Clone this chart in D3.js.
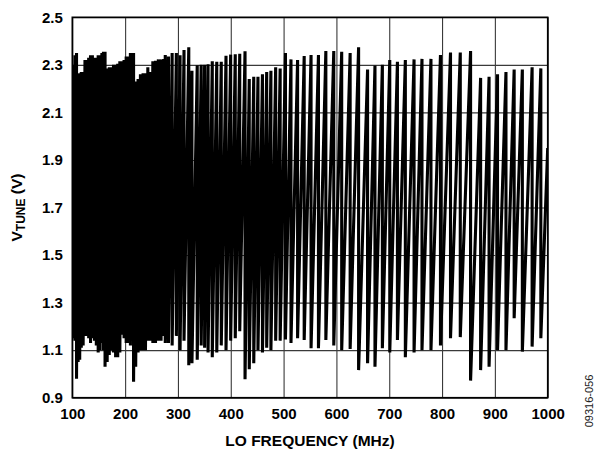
<!DOCTYPE html>
<html>
<head>
<meta charset="utf-8">
<script src="https://cdn.jsdelivr.net/npm/d3@7"></script>
<style>
  body { margin: 0; background: #fff; }
  text { font-family: "Liberation Sans", Arial, sans-serif; }
</style>
</head>
<body>
<script>
// tick labels
var xTicks = [100, 200, 300, 400, 500, 600, 700, 800, 900, 1000];
var yTicks = [0.9, 1.1, 1.3, 1.5, 1.7, 1.9, 2.1, 2.3, 2.5];

// sweep start / end (MHz, V)
var startMHz = 100, startV = 1.16;
var endMHz = 1000, endV = 1.95;

// band switch points: frequency, Vtune just before the switch, Vtune just after
var switchMHz = [
  102, 105, 108,
  111, 114, 117, 120.5, 124, 127.5, 131, 134.5, 138, 142, 145.5, 149, 152.5, 156, 159, 162,
  166, 170, 174, 178, 182, 186, 190, 194, 198, 202, 206, 210, 213, 216,
  220, 224.5, 229, 234, 238.5, 243, 247.5, 252.5, 257.5, 263, 268, 273, 276, 282, 289, 297, 304, 311.5, 320.5,
  326.5, 336.5, 344, 350.5, 357, 365, 373.5, 382, 391, 399.8, 408.5, 417, 427,
  435, 443.5, 451.5, 460, 468, 476, 485, 493.5, 503.5, 514, 526.5, 539, 552, 566, 580, 595, 610, 626, 642,
  659, 673, 687, 701, 715.5, 730.5, 747, 762, 779, 797, 816, 834.5, 854,
  873, 889, 905, 921, 936.5, 952, 970.5, 987
];
var peakV = [
  2.30, 2.34, 2.35,
  2.26, 2.265, 2.27, 2.27, 2.32, 2.32, 2.33, 2.34, 2.34, 2.33, 2.33, 2.34, 2.34, 2.35, 2.355, 2.355,
  2.285, 2.29, 2.29, 2.30, 2.30, 2.305, 2.315, 2.315, 2.32, 2.335, 2.335, 2.35, 2.35, 2.35,
  2.23, 2.24, 2.26, 2.265, 2.265, 2.29, 2.27, 2.315, 2.317, 2.323, 2.323, 2.325, 2.341, 2.335, 2.35, 2.35, 2.34, 2.362, 2.374,
  2.275, 2.298, 2.30, 2.30, 2.302, 2.315, 2.313, 2.313, 2.338, 2.343, 2.345, 2.347, 2.357,
  2.24, 2.25, 2.25, 2.26, 2.27, 2.275, 2.29, 2.285, 2.35, 2.323, 2.32, 2.337, 2.341, 2.341, 2.358, 2.358, 2.355, 2.35, 2.374,
  2.28, 2.297, 2.30, 2.32, 2.313, 2.32, 2.323, 2.325, 2.325, 2.341, 2.352, 2.352, 2.358,
  2.245, 2.25, 2.26, 2.27, 2.28, 2.28, 2.29, 2.285
];
var troughV = [
  1.15, 1.14, 0.98,
  1.05, 1.06, 1.11, 1.12, 1.16, 1.16, 1.15, 1.13, 1.15, 1.14, 1.12, 1.09, 1.10, 1.13, 1.10, 1.03,
  1.05, 1.08, 1.10, 1.09, 1.07, 1.07, 1.09, 1.165, 1.15, 1.13, 1.13, 1.12, 1.16, 0.967,
  1.03, 1.09, 1.10, 1.10, 1.10, 1.14, 1.14, 1.13, 1.13, 1.14, 1.14, 1.16, 1.13, 1.13, 1.12, 1.16, 1.10, 1.14, 1.037,
  1.045, 1.06, 1.12, 1.11, 1.09, 1.07, 1.09, 1.12, 1.10, 1.14, 1.15, 1.18, 0.978,
  1.02, 1.045, 1.10, 1.09, 1.11, 1.10, 1.14, 1.14, 1.145, 1.13, 1.15, 1.143, 1.108, 1.108, 1.143, 1.12, 1.10, 1.105, 1.016,
  1.045, 1.03, 1.108, 1.09, 1.143, 1.07, 1.09, 1.10, 1.10, 1.12, 1.15, 1.155, 0.972,
  1.016, 1.03, 1.10, 1.10, 1.234, 1.094, 1.115, 1.15
];

var svgWidth = 595;
var svgHeight = 451;
var margin = { top: 17.3, right: 47.3, bottom: 53.3, left: 72.3 };
var width = svgWidth - margin.left - margin.right;
var height = svgHeight - margin.top - margin.bottom;

var svg = d3.select("body")
  .append("svg")
  .attr("width", svgWidth)
  .attr("height", svgHeight);

var chartGroup = svg.append("g")
  .attr("transform", `translate(${margin.left}, ${margin.top})`);

var xScale = d3.scaleLinear().domain([100, 1000]).range([0, width]);
var yScale = d3.scaleLinear().domain([0.9, 2.5]).range([height, 0]);

// grid + tick labels
var xAxis = chartGroup.append("g")
  .attr("transform", `translate(0, ${height})`)
  .call(d3.axisBottom(xScale).tickValues(xTicks).tickSize(-height).tickPadding(10.5).tickFormat(d3.format("d")));
var yAxis = chartGroup.append("g")
  .call(d3.axisLeft(yScale).tickValues(yTicks).tickSize(-width).tickPadding(9.5).tickFormat(d3.format(".1f")));

[xAxis, yAxis].forEach(function(ax) {
  ax.select(".domain").remove();
  ax.selectAll(".tick line").attr("stroke", "#3a3a3a").attr("stroke-width", 1.1);
  ax.selectAll(".tick text")
    .attr("fill", "#000")
    .style("font-size", "15px")
    .style("font-weight", "bold");
});

// sawtooth trace
var pts = [[startMHz, startV]];
switchMHz.forEach(function(f, i) {
  pts.push([f, peakV[i]]);
  pts.push([f, troughV[i]]);
});
pts.push([endMHz, endV]);

chartGroup.append("clipPath").attr("id", "plotClip")
  .append("rect").attr("width", width).attr("height", height);

var line = d3.line()
  .x(d => xScale(d[0]))
  .y(d => yScale(d[1]));

chartGroup.append("path")
  .datum(pts)
  .attr("clip-path", "url(#plotClip)")
  .attr("d", line)
  .attr("fill", "none")
  .attr("stroke", "#000")
  .attr("stroke-width", 3.1)
  .attr("stroke-linejoin", "bevel");

// frame
chartGroup.append("rect")
  .attr("width", width)
  .attr("height", height)
  .attr("fill", "none")
  .attr("stroke", "#000")
  .attr("stroke-width", 1.6);

// axis titles
chartGroup.append("text")
  .attr("x", width / 2)
  .attr("y", height + 48.5)
  .attr("text-anchor", "middle")
  .style("font-size", "15.5px")
  .style("font-weight", "bold")
  .text("LO FREQUENCY (MHz)");

var yTitle = svg.append("text")
  .attr("transform", `translate(21.5, ${margin.top + height / 2}) rotate(-90)`)
  .attr("text-anchor", "middle")
  .style("font-size", "15.5px")
  .style("font-weight", "bold");
yTitle.append("tspan").text("V");
yTitle.append("tspan").attr("dy", 3).style("font-size", "12px").text("TUNE");
yTitle.append("tspan").attr("dy", -3).text(" (V)");

// figure id
svg.append("text")
  .attr("transform", "translate(593, 401) rotate(-90)")
  .attr("text-anchor", "middle")
  .style("font-size", "11px")
  .attr("fill", "#222")
  .text("09316-056");
</script>
</body>
</html>
